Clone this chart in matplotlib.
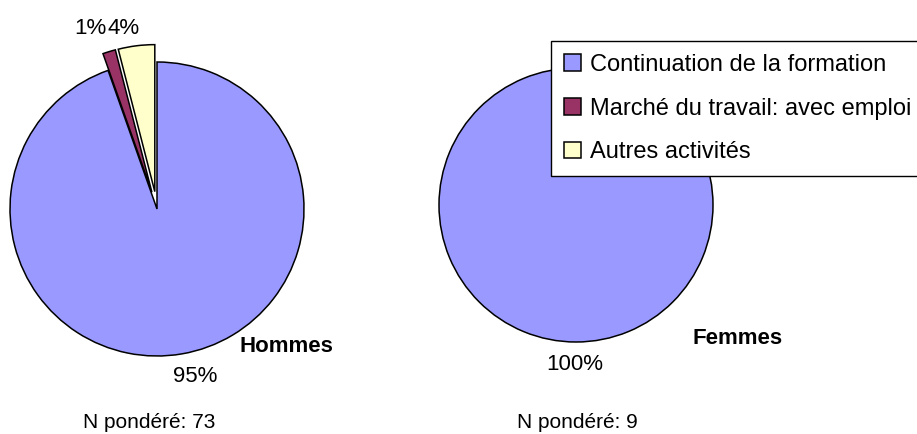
import matplotlib
matplotlib.use("Agg")
import matplotlib.pyplot as plt

plt.rcParams['font.family'] = ['Liberation Sans', 'DejaVu Sans']

W, H = 917, 434

categories = ["Continuation de la formation",
              "Marché du travail: avec emploi",
              "Autres activités"]
colors = ["#9999FF", "#993366", "#FFFFCC"]

hommes = [94.6, 1.4, 4.0]
femmes = [100.0, 0.0, 0.0]
groups = ["Hommes", "Femmes"]
n_ponderes = [73, 9]


def fy(y):
    # image rows -> data y (pixel axes, origin at bottom)
    return H - y


fig = plt.figure(figsize=(W / 100, H / 100), dpi=100)
ax = fig.add_axes([0, 0, 1, 1])

wp = dict(edgecolor="black", linewidth=1.1)

# left pie (Hommes)
w_left, _ = ax.pie(hommes, colors=colors, startangle=90, counterclock=False,
                   explode=[0, 17.5, 17.5], center=(157, fy(209)), radius=147,
                   wedgeprops=wp)

# right pie (Femmes)
w_right, _ = ax.pie(femmes, colors=colors, startangle=90, counterclock=False,
                    center=(576, fy(205)), radius=137, wedgeprops=wp)
for w, v in zip(w_right, femmes):
    if v == 0:
        w.set_visible(False)

ax.set_xlim(0, W)
ax.set_ylim(0, H)
ax.axis("off")

# percentage labels
fs = 16
lab_pos_h = [(195, 377), (90, 28), (124, 28)]
for v, (x, y) in zip(hommes, lab_pos_h):
    ax.text(x, fy(y), f"{round(v)}%", fontsize=fs, ha="center", va="center")
ax.text(575, fy(364), f"{round(femmes[0])}%", fontsize=fs, ha="center", va="center")

# group titles
ax.text(286, fy(346), groups[0], fontsize=16, fontweight="bold", ha="center", va="center")
ax.text(738, fy(338), groups[1], fontsize=16, fontweight="bold", ha="center", va="center")

# weighted N
ax.text(149, fy(423), f"N pondéré: {n_ponderes[0]}", fontsize=15, ha="center", va="center")
ax.text(577, fy(423), f"N pondéré: {n_ponderes[1]}", fontsize=15, ha="center", va="center")

leg = ax.legend(w_left, categories, loc="upper left",
                bbox_to_anchor=(551 / W, 1 - 41 / H), bbox_transform=fig.transFigure,
                borderaxespad=0, fontsize=17, frameon=True, fancybox=False,
                edgecolor="black", framealpha=1, handlelength=0.7, handleheight=0.7,
                handletextpad=0.42, borderpad=0.55, labelspacing=0.92)
leg.get_frame().set_linewidth(1.0)

fig.savefig("out.png", dpi=100)
